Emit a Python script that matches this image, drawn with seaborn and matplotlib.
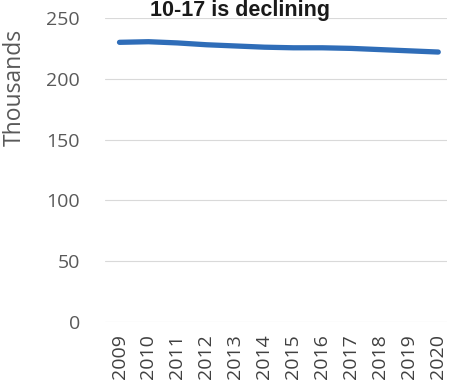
import numpy as np
import pandas as pd
import seaborn as sns
import matplotlib
matplotlib.use("Agg")
import matplotlib.pyplot as plt

# Data (thousands)
years = ["2009", "2010", "2011", "2012", "2013", "2014",
         "2015", "2016", "2017", "2018", "2019", "2020"]
population = [230.0, 230.5, 229.5, 228.0, 227.0, 226.0,
              225.5, 225.5, 225.0, 224.0, 223.0, 222.0]
yticks = [0, 50, 100, 150, 200, 250]

df = pd.DataFrame({"year": years, "population": population})

sns.set_theme()
sns.set_style("white")
plt.rcParams['font.family'] = ['Open Sans', 'DejaVu Sans']

fig = plt.figure(figsize=(4.57, 3.83), dpi=100)
ax = fig.add_axes([0.2298, 0.1593, 0.978 - 0.2298, 0.953 - 0.1593])

for t in yticks:
  ax.axhline(t, color="#d9d9d9", linewidth=0.8, zorder=0)

sns.lineplot(data=df, x="year", y="population", ax=ax, sort=False,
             color="#2f6db8", linewidth=3.8, solid_capstyle="round")

ax.set_xlim(-0.5, 11.3)
ax.set_ylim(0, 250)
ax.set_yticks(yticks)
ax.set_xlabel("")
ax.set_ylabel("Thousands", fontsize=16.5, color="#595959")
ax.yaxis.set_label_coords(-0.23, 0.77)
for s in ax.spines.values():
  s.set_visible(False)
ax.tick_params(axis="x", labelsize=14, labelcolor="#404040", rotation=90, length=0, pad=9)
ax.tick_params(axis="y", labelsize=14, labelcolor="#595959", length=0, pad=18)

fig.text(0.525, 0.999, "10-17 is declining", ha="center", va="top",
         fontsize=15.5, fontweight="bold", color="#1a1a1a",
         family=["Liberation Sans", "DejaVu Sans"])

fig.savefig("out.png", dpi=100)
